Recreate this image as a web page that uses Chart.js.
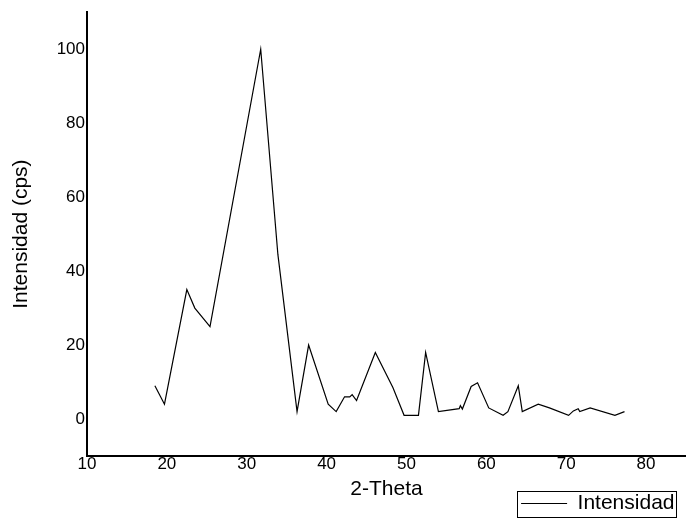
<!DOCTYPE html>
<html>
<head>
<meta charset="utf-8">
<script src="https://cdn.jsdelivr.net/npm/chart.js@4"></script>
<style>
  body { margin: 0; background: #fff; }
  canvas { display: block; }
</style>
</head>
<body>
<canvas id="chart" width="686" height="518"></canvas>
<script>
'use strict';

// values
let twoTheta = [18.5, 19.7, 22.5, 23.5, 25.4, 31.75, 33.9, 36.3, 37.75, 40.2, 41.2, 42.25, 42.9, 43.2, 43.75,
  46.1, 48.3, 49.7, 51.5, 52.4, 54.0, 56.6, 56.75, 57.0, 58.1, 58.9, 60.3, 62.1, 62.7, 64.0, 64.5, 66.5,
  67.9, 70.3, 70.9, 71.5, 71.7, 73.0, 76.1, 77.3];
let intensity = [9, 4, 35, 30, 25, 100, 44.5, 2, 20, 4, 2, 6, 6, 6.6, 5,
  18, 8.5, 1, 1, 18, 2, 2.8, 3.6, 2.7, 8.8, 9.8, 3, 1, 2, 9, 2, 4,
  3, 1, 2.2, 2.8, 2, 3, 1, 2];
let xTicks = [10, 20, 30, 40, 50, 60, 70, 80];
let yTicks = [0, 20, 40, 60, 80, 100];
let seriesName = 'Intensidad';

let ctx = document.getElementById('chart').getContext('2d');
Chart.defaults.font.family = '"Liberation Sans", Arial, sans-serif';
Chart.defaults.color = '#000';

let points = [];
for (let i = 0; i < twoTheta.length; i++) {
  points.push({ x: twoTheta[i], y: intensity[i] });
}

// legend sits in the bottom right with a thin frame round it
const legendFrame = {
  id: 'legendFrame',
  afterLayout(chart) {
    let lg = chart.legend;
    lg.right = 679.5;
    lg.top += 6;
    lg.bottom += 6;
  },
  afterDraw(chart) {
    let box = chart.legend.legendHitBoxes[0];
    if (!box) return;
    let c = chart.ctx;
    c.save();
    c.strokeStyle = '#000';
    c.lineWidth = 1;
    c.strokeRect(Math.round(box.left) - 4 + 0.5, Math.round(box.top) - 2 + 0.5,
      Math.round(box.width) + 6, 26);
    c.restore();
  }
};

new Chart(ctx, {
  type: 'line',
  data: {
    datasets: [{
      label: seriesName,
      data: points,
      borderColor: '#000',
      backgroundColor: '#000',
      borderWidth: 1.2,
      pointRadius: 0,
      tension: 0,
      fill: false
    }]
  },
  options: {
    responsive: false,
    animation: false,
    layout: { padding: { top: 12, right: 0, bottom: 0, left: 0 } },
    plugins: {
      tooltip: { enabled: false },
      legend: {
        position: 'bottom',
        align: 'end',
        labels: {
          usePointStyle: true,
          pointStyle: 'line',
          pointStyleWidth: 46,
          padding: 5,
          color: '#000',
          font: { size: 21 }
        }
      }
    },
    scales: {
      x: {
        type: 'linear',
        min: 10,
        max: 85,
        afterBuildTicks: (scale) => { scale.ticks = xTicks.map(v => ({ value: v })); },
        afterFit: (scale) => { scale.height = 26; },
        grid: { display: false, drawTicks: false },
        border: { display: true, color: '#000', width: 2 },
        ticks: { padding: 0, maxRotation: 0, font: { size: 17, lineHeight: 1 } },
        title: { display: true, text: '2-Theta', font: { size: 21 }, padding: { top: 0, bottom: -20 } }
      },
      y: {
        min: -10,
        max: 110,
        afterBuildTicks: (scale) => { scale.ticks = yTicks.map(v => ({ value: v })); },
        afterFit: (scale) => { scale.width = 87; },
        grid: { display: false, drawTicks: false },
        border: { display: true, color: '#000', width: 2 },
        ticks: { padding: 2, font: { size: 17 } },
        title: { display: true, text: 'Intensidad (cps)', font: { size: 21 }, padding: { top: 9, bottom: 0 } }
      }
    }
  },
  plugins: [legendFrame]
});
</script>
</body>
</html>
